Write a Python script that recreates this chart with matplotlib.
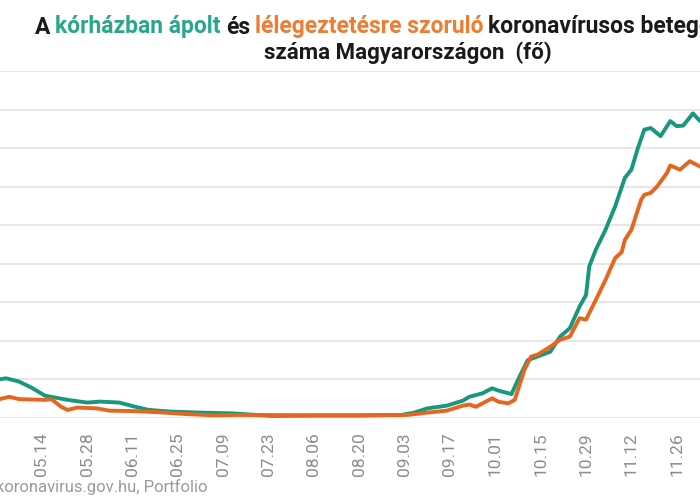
import matplotlib.pyplot as plt
import matplotlib.dates as mdates
import numpy as np
import pandas as pd

# kórházban ápolt (fő) - bal tengely
hosp_dates = ["2020-05-01", "2020-05-03", "2020-05-07", "2020-05-11", "2020-05-15",
              "2020-05-22", "2020-05-28", "2020-06-01", "2020-06-07", "2020-06-11",
              "2020-06-16", "2020-06-23", "2020-07-02", "2020-07-12", "2020-07-19",
              "2020-07-24", "2020-08-08", "2020-08-20", "2020-09-02", "2020-09-06",
              "2020-09-10", "2020-09-16", "2020-09-21", "2020-09-23", "2020-09-27",
              "2020-09-30", "2020-10-02", "2020-10-06", "2020-10-08", "2020-10-11",
              "2020-10-18", "2020-10-21", "2020-10-24", "2020-10-27", "2020-10-29",
              "2020-10-30", "2020-11-01", "2020-11-04", "2020-11-07", "2020-11-10",
              "2020-11-12", "2020-11-14", "2020-11-16", "2020-11-18", "2020-11-21",
              "2020-11-24", "2020-11-26", "2020-11-28", "2020-12-01", "2020-12-03"]
hosp = [1005, 1030, 945, 780, 580,
        470, 400, 425, 400, 310,
        210, 165, 140, 120, 80,
        55, 65, 65, 80, 140,
        250, 320, 450, 550, 640,
        770, 710, 620, 990, 1500,
        1720, 2110, 2330, 2890, 3190,
        3930, 4360, 4880, 5490, 6230,
        6440, 7000, 7480, 7520, 7310,
        7700, 7570, 7585, 7900, 7720]

# lélegeztetésre szoruló (fő) - jobb tengely
vent_dates = ["2020-05-01", "2020-05-04", "2020-05-07", "2020-05-15", "2020-05-17",
              "2020-05-20", "2020-05-22", "2020-05-25", "2020-05-31", "2020-06-04",
              "2020-06-11", "2020-06-19", "2020-06-28", "2020-07-06", "2020-07-14",
              "2020-08-02", "2020-08-20", "2020-09-04", "2020-09-10", "2020-09-16",
              "2020-09-21", "2020-09-23", "2020-09-25", "2020-09-30", "2020-10-02",
              "2020-10-05", "2020-10-07", "2020-10-10", "2020-10-12", "2020-10-14",
              "2020-10-18", "2020-10-21", "2020-10-24", "2020-10-27", "2020-10-29",
              "2020-11-01", "2020-11-04", "2020-11-07", "2020-11-09", "2020-11-10",
              "2020-11-12", "2020-11-15", "2020-11-16", "2020-11-18", "2020-11-20",
              "2020-11-23", "2020-11-24", "2020-11-27", "2020-11-30", "2020-12-03"]
vent = [49, 55, 49, 47, 49,
        29, 21, 27, 25, 19,
        18, 15, 10, 7, 8,
        7, 7, 8, 14, 19,
        32, 35, 29, 51, 42,
        38, 47, 125, 159, 164,
        185, 203, 211, 259, 255,
        306, 358, 415, 430, 462,
        488, 566, 579, 584, 601,
        636, 655, 644, 666, 653]

tick_dates = pd.date_range("2020-05-14", "2020-11-26", freq="14D")

title_parts = ["A", "kórházban ápolt", "és", "lélegeztetésre szoruló", "koronavírusos betegek"]
title_colors = ["#1a1a1a", "#2aa68a", "#1a1a1a", "#ee7c32", "#1a1a1a"]

green = "#17977d"
orange = "#e6651f"

fig = plt.figure(figsize=(7, 5), dpi=100)
ax = fig.add_axes([0, 0.164, 1, 0.694])
ax2 = ax.twinx()

ax.plot(pd.to_datetime(hosp_dates), hosp, color=green, lw=2.8, solid_joinstyle="round")
ax2.plot(pd.to_datetime(vent_dates), vent, color=orange, lw=2.8, solid_joinstyle="round")

x0 = mdates.date2num(pd.Timestamp("2020-05-01")) + 0.13
ax.set_xlim(x0, x0 + 700 / 3.24)
ax.set_ylim(0, 9000)
ax2.set_ylim(0, 900)
ax.set_yticks(np.arange(0, 9001, 1000))
ax.yaxis.grid(True, color="#e0e0e0", lw=1.1)
ax.set_axisbelow(True)
ax.tick_params(axis="y", length=0, labelleft=False)
ax2.tick_params(axis="y", length=0, labelright=False)
ax2.set_yticks([])

ax.set_xticks(tick_dates)
ax.xaxis.set_major_formatter(mdates.DateFormatter("%m.%d"))
ax.tick_params(axis="x", length=0, pad=10, labelsize=12.5, labelcolor="#8c8c8c",
               labelrotation=90)
for lab in ax.get_xticklabels():
    lab.set_fontfamily("Roboto")

for a in (ax, ax2):
    for s in a.spines.values():
        s.set_visible(False)

# cím, színes részekkel egymás után
tf = dict(fontsize=16.5, fontweight="bold", family="Roboto", va="baseline")
y1 = 1 - 33.5 / 500
renderer = fig.canvas.get_renderer()
xpos = 35
for part, col in zip(title_parts, title_colors):
    t = fig.text(xpos / 700, y1, part, color=col, **tf)
    bb = t.get_window_extent(renderer)
    xpos = bb.x1 + 5
tf["fontsize"] = 16
fig.text(408 / 700, 1 - 58.5 / 500, "száma Magyarországon  (fő)", color="#1a1a1a",
         ha="center", **tf)

fig.text(207 / 700, 13 / 500, "Forrás: koronavirus.gov.hu, Portfolio", color="#9a9a9a",
         fontsize=12, family="Roboto", ha="right", va="center")

fig.savefig("out.png", dpi=100)
